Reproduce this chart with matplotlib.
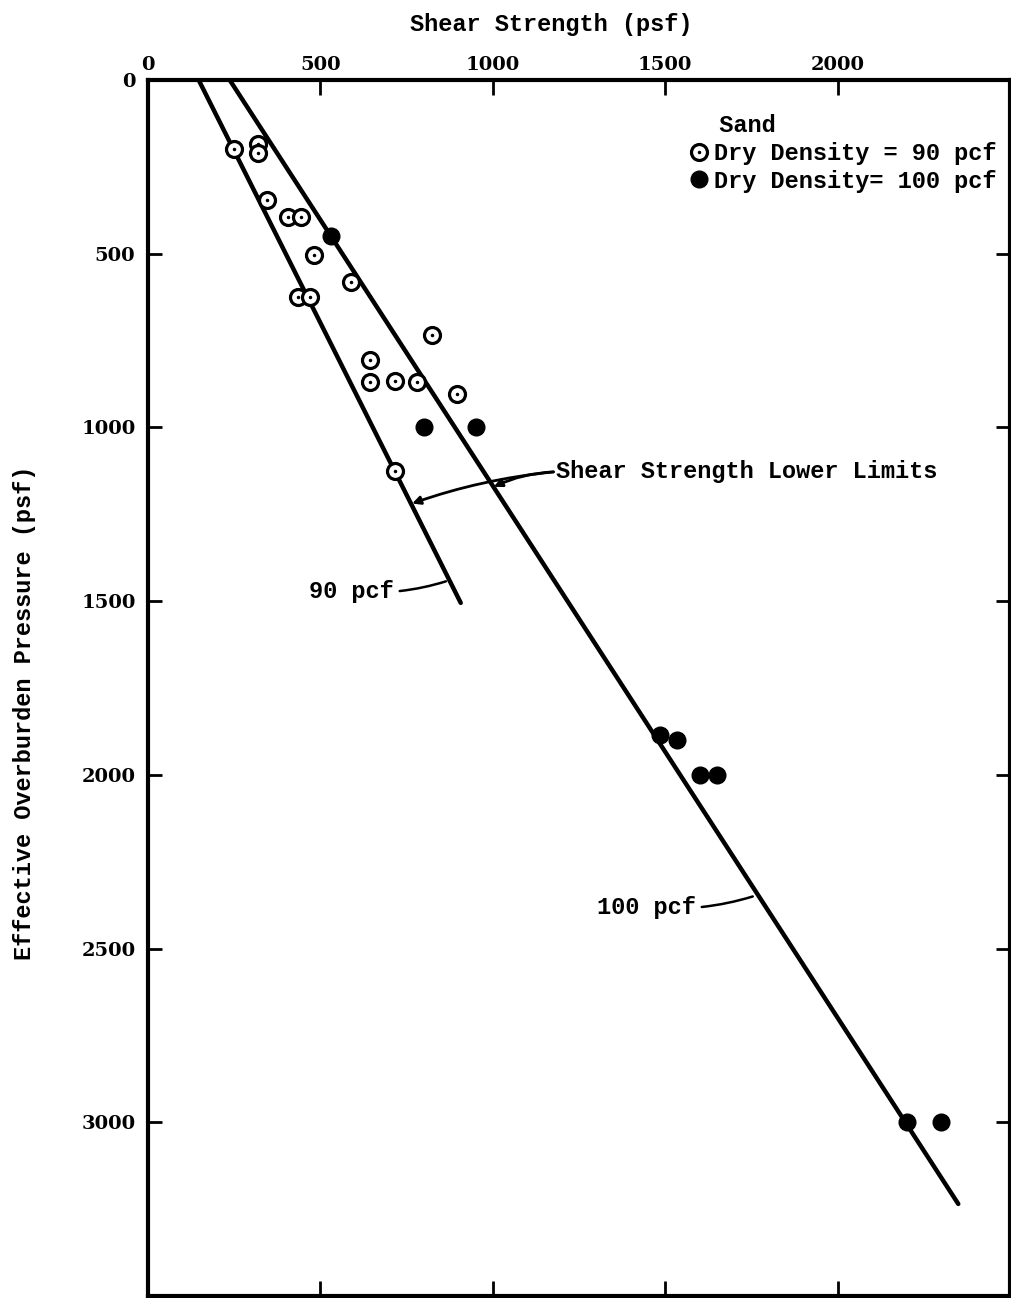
import matplotlib
matplotlib.use("Agg")
import matplotlib.pyplot as plt
from matplotlib.legend_handler import HandlerTuple

# shear strength (psf) vs effective overburden pressure (psf), sand
shear_90 = [250, 320, 320, 345, 405, 445, 480, 590, 435, 470, 825, 645, 645, 715, 780, 895, 715]
press_90 = [200, 185, 210, 345, 395, 395, 505, 580, 625, 625, 735, 805, 870, 865, 870, 905, 1125]

shear_100 = [530, 800, 950, 1485, 1535, 1600, 1650, 2200, 2300]
press_100 = [450, 1000, 1000, 1885, 1900, 2000, 2000, 3000, 3000]

# lower limit lines (shear, pressure) end points
limit_90_x = [147, 907]
limit_90_y = [0, 1505]
limit_100_x = [237, 2350]
limit_100_y = [0, 3235]

xticks = [0, 500, 1000, 1500, 2000]
yticks = [0, 500, 1000, 1500, 2000, 2500, 3000]

mono = "Liberation Mono"
fs = 17

fig = plt.figure(figsize=(10.11, 12.98), dpi=100)
ax = fig.add_axes([148/1011, 2/1298, 862/1011, 1216/1298])

ax.plot(limit_90_x, limit_90_y, "-k", lw=3.2, solid_capstyle="round")
ax.plot(limit_100_x, limit_100_y, "-k", lw=3.2, solid_capstyle="round")

o1, = ax.plot(shear_90, press_90, "o", ms=11.5, mfc="white", mec="black", mew=2.3, ls="none", zorder=3)
o2, = ax.plot(shear_90, press_90, ".", ms=3, color="black", ls="none", zorder=4)
f1, = ax.plot(shear_100, press_100, "o", ms=12, color="black", ls="none", zorder=3)

ax.set_xlim(0, 2500)
ax.set_ylim(3500, 0)
ax.set_xticks(xticks)
ax.set_yticks(yticks)

for s in ax.spines.values():
    s.set_linewidth(3)

ax.xaxis.tick_top()
ax.tick_params(axis="x", which="both", top=True, bottom=True, labeltop=True, labelbottom=False,
               direction="in", length=11, width=2, pad=4)
ax.tick_params(axis="y", which="both", left=True, right=True, labelleft=True, labelright=False,
               direction="in", length=10, width=2, pad=9)
for lab in ax.get_xticklabels() + ax.get_yticklabels():
    lab.set_fontfamily("DejaVu Serif")
    lab.set_fontweight("bold")
    lab.set_fontsize(14)

ax.set_xlabel("Shear Strength (psf)", fontfamily=mono, fontweight="bold", fontsize=fs, va="center")
ax.xaxis.set_label_position("top")
ax.xaxis.set_label_coords(0.4675, 1.0405)
ax.set_ylabel("Effective Overburden Pressure (psf)", fontfamily=mono, fontweight="bold", fontsize=fs, va="center")
ax.yaxis.set_label_coords(-0.1427, 0.48)

leg = ax.legend([(o1, o2), f1], ["Dry Density = 90 pcf", "Dry Density= 100 pcf"],
                handler_map={tuple: HandlerTuple(ndivide=1, pad=0)},
                title="  Sand", alignment="left", loc="upper left", bbox_to_anchor=(0.616, 0.9815),
                frameon=False, borderpad=0, handlelength=0.7, handletextpad=0.3, labelspacing=0.2,
                prop={"family": mono, "weight": "bold", "size": fs},
                title_fontproperties={"family": mono, "weight": "bold", "size": fs})

# callout for both lower limit lines
label_pt = (1176, 1128)
ax.text(label_pt[0] + 6, label_pt[1], "Shear Strength Lower Limits", ha="left", va="center",
        fontfamily=mono, fontweight="bold", fontsize=fs)
arrow_kw = dict(arrowstyle="-|>", color="black", lw=2, mutation_scale=12, shrinkA=0, shrinkB=0)
ax.annotate("", xy=(766, 1219), xytext=label_pt,
            arrowprops=dict(connectionstyle="arc3,rad=0.06", **arrow_kw))
ax.annotate("", xy=(1003, 1171), xytext=label_pt,
            arrowprops=dict(connectionstyle="arc3,rad=0.1", **arrow_kw))

line_kw = dict(arrowstyle="-", color="black", lw=1.8, shrinkA=2, shrinkB=0)
ax.annotate("90 pcf", xy=(864, 1443), xytext=(714, 1472), ha="right", va="center",
            fontfamily=mono, fontweight="bold", fontsize=fs,
            arrowprops=dict(connectionstyle="arc3,rad=0.1", **line_kw))
ax.annotate("100 pcf", xy=(1754, 2350), xytext=(1590, 2381), ha="right", va="center",
            fontfamily=mono, fontweight="bold", fontsize=fs,
            arrowprops=dict(connectionstyle="arc3,rad=0.1", **line_kw))

fig.savefig("out.png", dpi=100)
